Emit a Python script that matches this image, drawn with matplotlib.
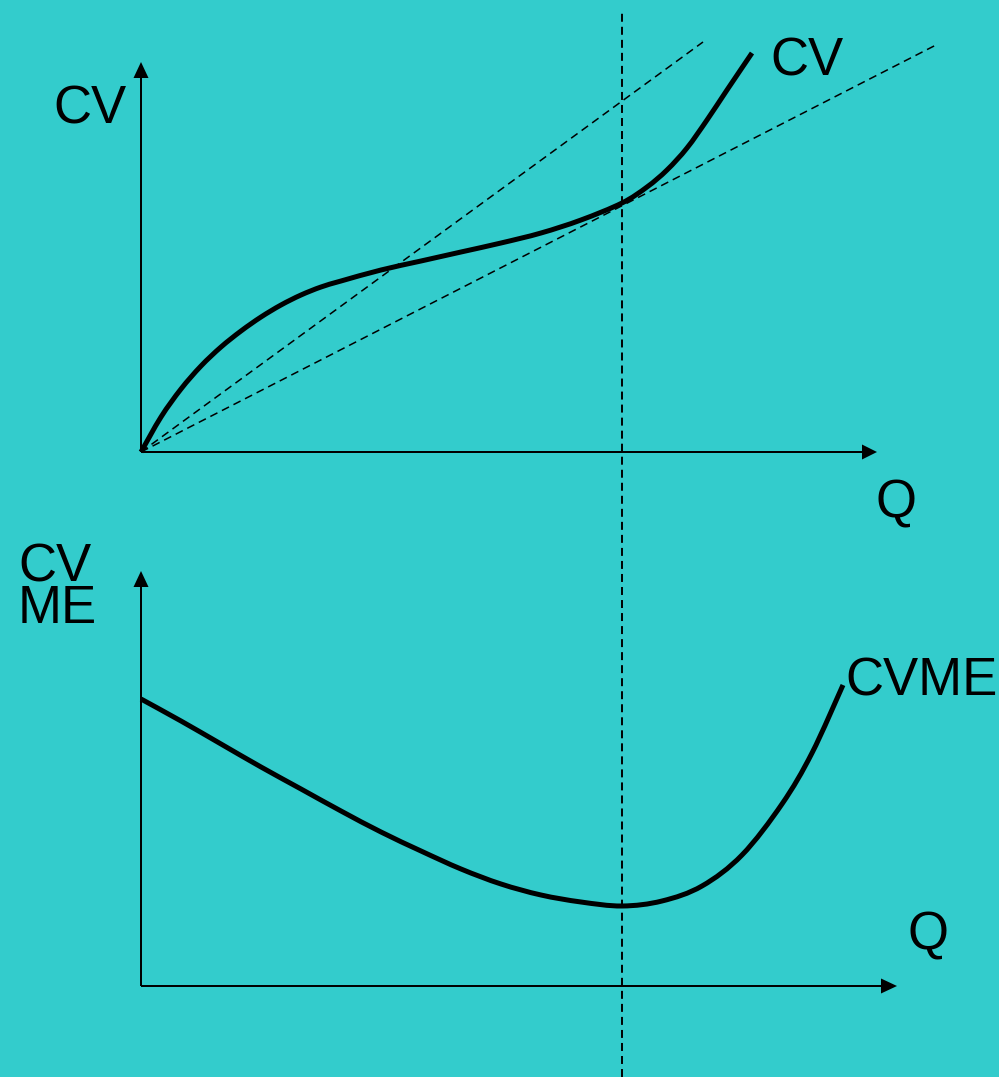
import numpy as np
import matplotlib.pyplot as plt
import matplotlib.transforms as mtransforms
from matplotlib.path import Path
from matplotlib.patches import PathPatch

# total variable cost curve (top panel), Q and CV
q_cv = [0, 20, 40, 60, 80, 100, 120, 140, 160, 180, 200, 240, 280, 320, 360,
        400, 440, 481, 506, 526, 546, 566, 586, 611]
cv = [0, 35, 63, 86, 105, 121, 135, 147, 157, 165, 171, 182, 191, 200, 209,
      219, 232, 249, 265, 282, 304, 332, 362, 399]

# rays from the origin (end points)
ray_q = [562, 795]
ray_cv = [410, 407]

# average variable cost curve (bottom panel)
q_cvme = [0, 40, 80, 120, 160, 200, 240, 280, 320, 360, 400, 440, 481, 521,
          561, 601, 641, 671, 702]
cvme = [287, 265, 242, 219, 197, 175, 154, 135, 117, 102, 91, 84, 80, 85,
        100, 131, 182, 233, 301]

# output level where CVME is at its minimum
q_min = 481

W, H = 999, 1077
BG = '#33cccc'
plt.rcParams['font.family'] = ['Liberation Sans', 'DejaVu Sans']


def smooth_path(xs, ys):
    # cubic bezier through the read points (catmull-rom tangents)
    p = np.column_stack([xs, ys]).astype(float)
    ext = np.vstack([p[0], p, p[-1]])
    verts = [p[0]]
    codes = [Path.MOVETO]
    for i in range(len(p) - 1):
        p0, p1, p2, p3 = ext[i], ext[i + 1], ext[i + 2], ext[i + 3]
        verts += [p1 + (p2 - p0) / 6, p2 - (p3 - p1) / 6, p2]
        codes += [Path.CURVE4] * 3
    return Path(verts, codes)


fig = plt.figure(figsize=(W / 100, H / 100), dpi=100, facecolor=BG)

top_h, bot_h = 530, 547
ax1 = fig.add_axes([0, (H - top_h) / H, 1, top_h / H])
ax2 = fig.add_axes([0, 0, 1, bot_h / H])

ax1.set_xlim(-141, W - 141)
ax1.set_ylim(-(top_h - 452), 452)
ax2.set_xlim(-141, W - 141)
ax2.set_ylim(-(H - 986), bot_h - (H - 986))

for ax in (ax1, ax2):
    ax.set_facecolor(BG)
    ax.axis('off')

# axes with arrow heads
ax1.arrow(0, 0, 0, 390, width=2, head_width=15, head_length=16,
          length_includes_head=True, fc='k', ec='none')
ax1.arrow(0, 0, 736, 0, width=2, head_width=15, head_length=15,
          length_includes_head=True, fc='k', ec='none')
ax2.arrow(0, 0, 0, 415, width=2, head_width=15, head_length=16,
          length_includes_head=True, fc='k', ec='none')
ax2.arrow(0, 0, 756, 0, width=2, head_width=15, head_length=16,
          length_includes_head=True, fc='k', ec='none')

# top panel
for rq, rc in zip(ray_q, ray_cv):
    ax1.plot([0, rq], [0, rc], color='k', lw=1.1, linestyle=(0, (5.2, 3.3)))
ax1.add_patch(PathPatch(smooth_path(q_cv, cv), fill=False, ec='k', lw=3.6,
                        capstyle='butt', joinstyle='round'))

# bottom panel
ax2.add_patch(PathPatch(smooth_path(q_cvme, cvme), fill=False, ec='k', lw=3.6,
                        capstyle='butt', joinstyle='round'))

# vertical dashed line through both panels
trans = mtransforms.blended_transform_factory(ax1.transData, fig.transFigure)
fig.add_artist(plt.Line2D([q_min, q_min], [0, (H - 10) / H], transform=trans,
                          color='k', lw=1.4, linestyle=(0, (4.1, 2.6))))

fs = 38
ax1.text(-88, 329, 'CV', fontsize=fs, ha='left', va='baseline')
ax1.text(629, 376, 'CV', fontsize=fs, ha='left', va='baseline')
ax1.text(734, -66, 'Q', fontsize=fs, ha='left', va='baseline')

ax2.text(-123, 363, 'CV\nME', fontsize=fs, ha='left', va='baseline',
         linespacing=0.78, multialignment='left')
ax2.text(704, 290, 'CVME', fontsize=fs, ha='left', va='baseline')
ax2.text(767, 36, 'Q', fontsize=fs, ha='left', va='baseline')

fig.savefig('out.png', dpi=100, facecolor=BG)
